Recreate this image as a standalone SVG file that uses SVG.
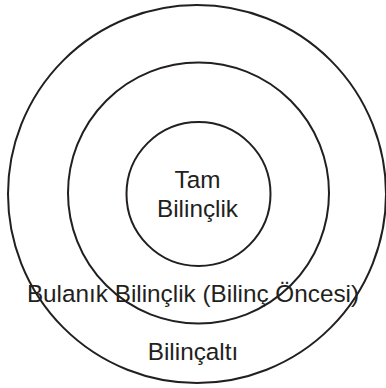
<svg xmlns="http://www.w3.org/2000/svg" width="386" height="388" viewBox="0 0 386 388">
<style>
.ring{fill:none;stroke:#231f20;stroke-width:2}
.lbl{font-family:"Liberation Sans",Arial,sans-serif;font-size:24.3px;fill:#231f20;text-anchor:middle}
</style>
<rect width="386" height="388" fill="#ffffff"/>
<g id="bilincalti">
<circle class="ring" cx="197" cy="194" r="189"/>
<text class="lbl" x="193" y="360">Bilinçaltı</text>
</g>
<g id="bulanik">
<circle class="ring" cx="198.5" cy="193" r="130.5"/>
</g>
<g id="tam">
<circle class="ring" cx="198.5" cy="194" r="72"/>
<text class="lbl" x="197.5" y="188">Tam</text>
<text class="lbl" x="197.5" y="217">Bilinçlik</text>
</g>
<g id="bulanik-label">
<text class="lbl" x="193" y="302">Bulanık Bilinçlik (Bilinç Öncesi)</text>
</g>
<g id="connectors"/>
</svg>
